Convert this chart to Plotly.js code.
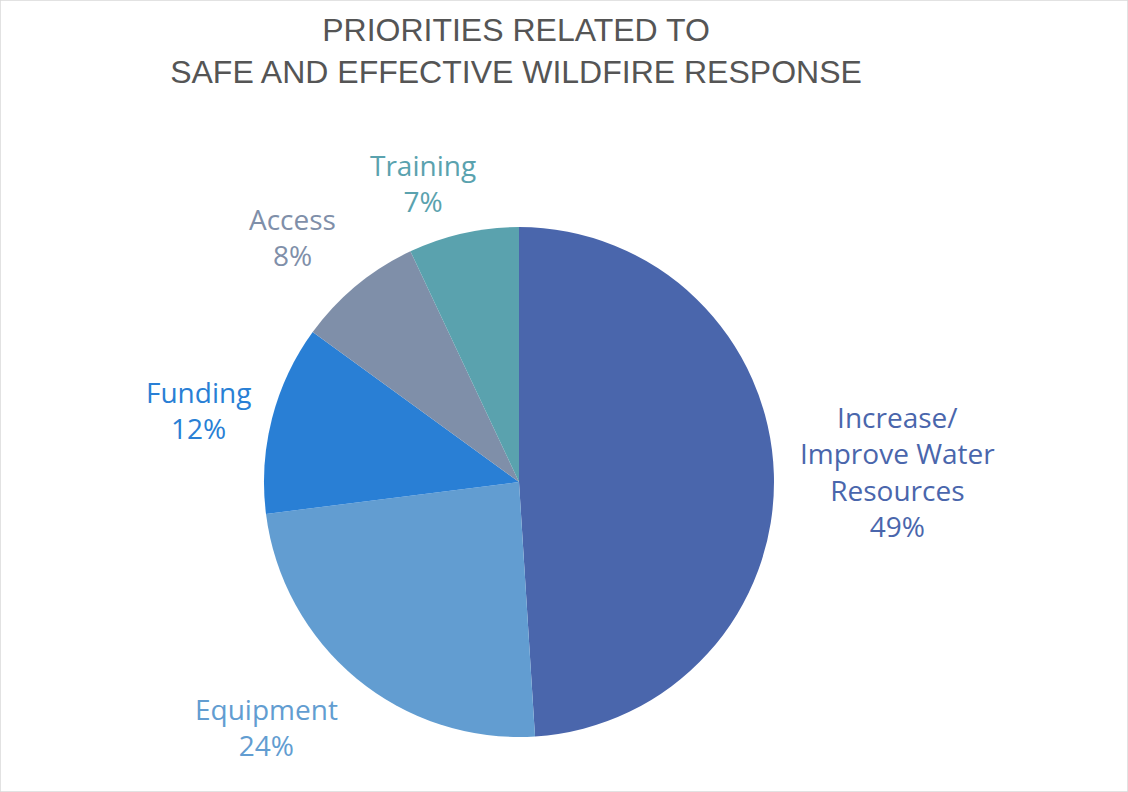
<!DOCTYPE html>
<html>
<head>
<meta charset="utf-8">
<script src="https://cdn.plot.ly/plotly-3.0.1.min.js"></script>
<style>html,body{margin:0;padding:0;background:#fff;}#chart{width:1128px;height:792px;}</style>
</head>
<body>
<div id="chart"></div>
<script>
const categories = ["Increase/ Improve Water Resources", "Equipment", "Funding", "Access", "Training"];
const displayLabels = ["Increase/<br>Improve Water<br>Resources", "Equipment", "Funding", "Access", "Training"];
const values = [49, 24, 12, 8, 7];
const colors = ["#4A66AC", "#629DD1", "#297FD5", "#7F8FA9", "#5AA2AE"];
// label anchor positions in pixels (layout only)
const labelPos = [[897, 471], [266, 727], [198, 410], [293, 237], [423, 183]];

const W = 1128, H = 792;
const cx = 519, cy = 482, r = 255;

const annotations = categories.map((c, i) => ({
  text: displayLabels[i] + '<br>' + values[i] + '%',
  x: labelPos[i][0] / W, y: 1 - labelPos[i][1] / H,
  xref: 'paper', yref: 'paper', xanchor: 'center', yanchor: 'middle',
  showarrow: false, align: 'center',
  font: {family: 'Open Sans, Liberation Sans, sans-serif', size: 28, color: colors[i]}
}));

const data = [{
  type: 'pie',
  labels: categories,
  values: values,
  sort: false,
  direction: 'clockwise',
  rotation: 0,
  marker: {colors: colors, line: {color: '#ffffff', width: 0}},
  textinfo: 'none',
  hoverinfo: 'label+percent',
  domain: {x: [(cx - r) / W, (cx + r) / W], y: [1 - (cy + r) / H, 1 - (cy - r) / H]}
}];

const layout = {
  width: W, height: H,
  margin: {l: 0, r: 0, t: 0, b: 0},
  paper_bgcolor: '#ffffff',
  showlegend: false,
  title: {
    text: 'PRIORITIES RELATED TO<br>SAFE AND EFFECTIVE WILDFIRE RESPONSE',
    x: 516 / W, xanchor: 'center', y: 1 - 41 / H, yanchor: 'middle',
    font: {family: 'Liberation Sans, Arial, sans-serif', size: 32, color: '#555555'}
  },
  annotations: annotations,
  shapes: [{type: 'rect', xref: 'paper', yref: 'paper', x0: 0, x1: 1, y0: 0, y1: 1,
            line: {color: '#D9D9D9', width: 1.5}}]
};

Plotly.newPlot('chart', data, layout, {displayModeBar: false, staticPlot: true});
</script>
</body>
</html>
